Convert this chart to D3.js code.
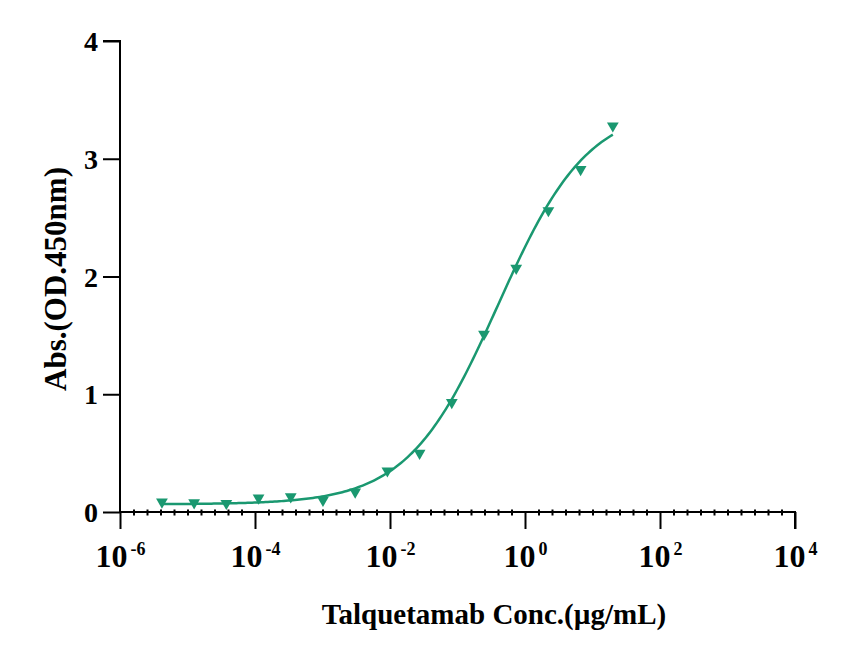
<!DOCTYPE html>
<html>
<head>
<meta charset="utf-8">
<script src="https://cdn.jsdelivr.net/npm/d3@7/dist/d3.min.js"></script>
<style>
  html, body { margin: 0; padding: 0; background: #fff; }
  svg text { font-family: "Liberation Serif", "Times New Roman", serif; font-weight: bold; fill: #000; }
</style>
</head>
<body>
<svg id="chart" width="868" height="648"></svg>
<script>
// ---- data ----
const concentrations = [20, 6.667, 2.222, 0.7407, 0.2469, 0.08230, 0.02743, 0.009145,
  0.003048, 0.001016, 0.0003387, 0.0001129, 0.00003763, 0.00001254, 0.000004181];
const absorbance = [3.28, 2.91, 2.56, 2.07, 1.51, 0.93, 0.50, 0.35,
  0.17, 0.10, 0.13, 0.12, 0.074, 0.08, 0.085];
// 4-parameter logistic fit of the series
const fitBottom = 0.065, fitTop = 3.45, fitLogEC50 = -0.40, fitHill = 0.651;
const xTickExponents = [-6, -4, -2, 0, 2, 4];
const yTickValues = [0, 1, 2, 3, 4];
const xTitle = "Talquetamab Conc.(µg/mL)";
const yTitle = "Abs.(OD.450nm)";
const color = "#1a9870";

const svg = d3.select("#chart");
const x = d3.scaleLog().domain([1e-6, 1e4]).range([120, 795]);
const y = d3.scaleLinear().domain([0, 4]).range([512, 41]);

// y axis
const gy = svg.append("g").attr("transform", `translate(${x.range()[0]},0)`)
  .call(d3.axisLeft(y).tickValues(yTickValues).tickSize(17).tickPadding(5).tickFormat(d3.format("d")));
gy.select(".domain").attr("stroke", "#000").attr("stroke-width", 2).attr("d", `M-17,${y(4)}H0V${y(0)}`);
gy.selectAll(".tick line").attr("stroke", "#000").attr("stroke-width", 2);
gy.selectAll(".tick text").attr("font-size", 28).attr("dy", "0.34em").attr("font-family", "Liberation Serif").attr("font-weight", "bold");

// x axis minor ticks
const minorVals = d3.range(-30, 21).map(k => Math.pow(10, k * 0.2)).filter((v, i) => ((i - 30) % 10) !== 0);
const gxm = svg.append("g").attr("transform", `translate(0,${y(0) - 2.5})`)
  .call(d3.axisBottom(x).tickValues(minorVals).tickSize(6).tickFormat(""));
gxm.select(".domain").remove();
gxm.selectAll(".tick line").attr("stroke", "#000").attr("stroke-width", 2);

// x axis major
const gx = svg.append("g").attr("transform", `translate(0,${y(0)})`)
  .call(d3.axisBottom(x).tickValues(xTickExponents.map(e => Math.pow(10, e))).tickSize(17).tickFormat(""));
gx.select(".domain").attr("stroke", "#000").attr("stroke-width", 2).attr("d", `M${x.range()[0]},0H${x.range()[1]}V17`);
gx.selectAll(".tick line").attr("stroke", "#000").attr("stroke-width", 2);
gx.selectAll(".tick").each(function(d, i) {
  const t = d3.select(this).append("text").attr("y", 55).attr("text-anchor", "middle").attr("fill", "#000");
  t.append("tspan").attr("font-size", 32).text("10");
  t.append("tspan").attr("font-size", 18).attr("dx", 3).attr("dy", -12).text(String(xTickExponents[i]));
});

// fitted curve
const fitLine = d3.line().x(d => x(d)).y(d => y(fitBottom + (fitTop - fitBottom) / (1 + Math.pow(10, (fitLogEC50 - Math.log10(d)) * fitHill))));
const lo = Math.log10(d3.min(concentrations)), hi = Math.log10(d3.max(concentrations));
const fitX = d3.range(0, 201).map(i => Math.pow(10, lo + (hi - lo) * i / 200));
svg.append("path").datum(fitX).attr("d", fitLine).attr("fill", "none").attr("stroke", color).attr("stroke-width", 2.5);

// points
const tri = d3.symbol().type(d3.symbolTriangle).size(60);
svg.append("g").selectAll("path").data(concentrations).join("path")
  .attr("d", tri)
  .attr("transform", (d, i) => `translate(${x(d)},${y(absorbance[i])}) rotate(180)`)
  .attr("fill", color);

// titles
svg.append("text").attr("x", 494).attr("y", 624).attr("text-anchor", "middle").attr("font-size", 29).text(xTitle);
svg.append("text").attr("transform", "translate(66,279) rotate(-90)").attr("text-anchor", "middle").attr("font-size", 31).text(yTitle);
</script>
</body>
</html>
